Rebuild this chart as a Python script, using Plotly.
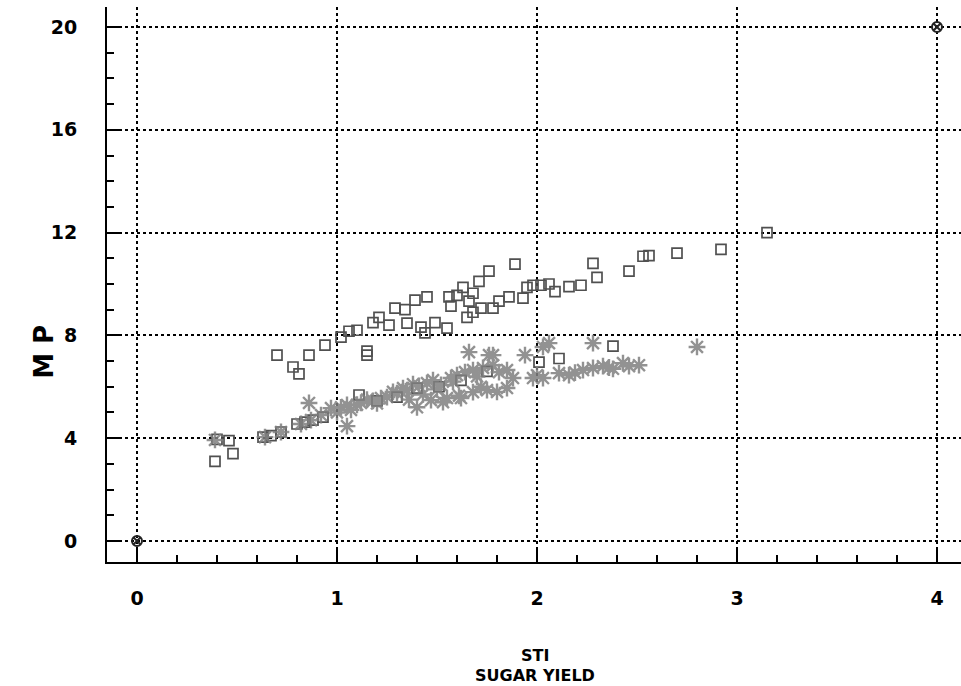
import plotly.graph_objects as go

# Open squares (upper cluster and some along lower trend)
sq_x = [0.39, 0.48, 0.46, 0.40, 0.63, 0.67, 0.72, 0.80, 0.84, 0.88, 0.93,
        0.70, 0.78, 0.81, 0.86, 0.94, 1.02, 1.06, 1.10, 1.15, 1.15, 1.18, 1.21,
        1.26, 1.29, 1.34, 1.35, 1.39, 1.42, 1.45, 1.49, 1.44, 1.55, 1.57, 1.60,
        1.63, 1.56, 1.66, 1.68, 1.71, 1.76, 1.72, 1.65, 1.68, 1.78, 1.81, 1.86,
        1.89, 1.93, 1.95, 1.98, 2.02, 2.06, 2.09, 2.16, 2.22, 2.28, 2.30, 2.46,
        2.53, 2.56, 2.70, 2.92, 3.15,
        2.01, 2.11, 2.38, 1.11, 1.30, 1.51, 1.20, 1.62, 1.40, 1.75]
sq_y = [3.10, 3.40, 3.90, 3.95, 4.04, 4.10, 4.24, 4.55, 4.62, 4.70, 4.82,
        7.23, 6.77, 6.50, 7.23, 7.62, 7.93, 8.16, 8.20, 7.39, 7.23, 8.50, 8.70,
        8.40, 9.06, 9.00, 8.48, 9.37, 8.32, 9.50, 8.50, 8.10, 8.28, 9.14, 9.56,
        9.87, 9.50, 9.33, 9.64, 10.10, 10.50, 9.06, 8.70, 8.90, 9.06, 9.33, 9.50,
        10.77, 9.45, 9.87, 9.95, 9.95, 10.00, 9.70, 9.90, 9.95, 10.80, 10.26, 10.50,
        11.08, 11.10, 11.20, 11.35, 12.00,
        6.96, 7.10, 7.58, 5.68, 5.60, 6.00, 5.45, 6.25, 5.95, 6.60]

# Asterisks (lower trend band)
ast_x = [0.39, 0.64, 0.72, 0.82, 0.87, 0.92, 0.97, 1.05, 1.12, 0.86, 1.05,
         1.07, 1.15, 1.22, 1.30, 1.35, 1.41, 1.45, 1.48, 1.52, 1.57, 1.60, 1.64,
         1.68, 1.73, 1.78, 1.81, 1.85,
         1.40, 1.47, 1.55, 1.62, 1.68, 1.75, 1.80, 1.85,
         1.88, 1.98, 2.03, 2.11, 2.23, 2.28, 2.33, 2.43, 2.51,
         1.76, 2.03, 2.06, 2.28, 2.80, 1.66, 1.78, 1.94,
         1.00, 1.10, 1.18, 1.25, 1.33, 1.38, 1.43, 1.50, 1.58, 1.70, 2.16, 2.38, 2.46,
         1.02, 1.20, 1.28, 1.36, 1.53, 1.61, 1.72, 2.00, 2.19, 2.36]
ast_y = [3.93, 4.04, 4.24, 4.55, 4.70, 4.90, 5.17, 5.29, 5.37, 5.37, 4.47,
         5.10, 5.50, 5.56, 5.75, 5.87, 6.03, 6.14, 6.26, 6.07, 6.34, 6.45, 6.57,
         6.65, 6.73, 6.84, 6.57, 6.65,
         5.20, 5.48, 5.56, 5.56, 5.79, 5.87, 5.80, 5.95,
         6.34, 6.34, 6.34, 6.53, 6.65, 6.73, 6.80, 6.92, 6.84,
         7.23, 7.55, 7.70, 7.70, 7.55, 7.35, 7.23, 7.23,
         5.00, 5.30, 5.45, 5.60, 5.95, 6.10, 5.70, 5.90, 6.20, 6.40, 6.45, 6.70, 6.80,
         5.20, 5.35, 5.80, 5.50, 5.40, 5.65, 6.00, 6.45, 6.55, 6.75]

# Calibration corner marks
corner_x = [0, 4]
corner_y = [0, 20]

x_ticks = [0, 1, 2, 3, 4]
y_ticks = [0, 4, 8, 12, 16, 20]

FONT = "DejaVu Sans, Liberation Sans, Arial, sans-serif"

fig = go.Figure()
fig.add_trace(go.Scatter(
    x=sq_x, y=sq_y, mode="markers",
    marker=dict(symbol="square-open", size=10, color="#505050",
                line=dict(width=1.7, color="#505050")),
    showlegend=False))
fig.add_trace(go.Scatter(
    x=ast_x, y=ast_y, mode="markers",
    marker=dict(symbol="asterisk-open", size=14, color="#808080",
                line=dict(width=2.4, color="#808080")),
    opacity=0.85, showlegend=False))
fig.add_trace(go.Scatter(
    x=corner_x, y=corner_y, mode="markers",
    marker=dict(symbol="circle-x-open", size=10, color="#222222",
                line=dict(width=2, color="#222222")),
    showlegend=False, cliponaxis=False))

tickfont = dict(family=FONT, size=19, color="black", weight="bold")

fig.update_xaxes(
    range=[-0.15, 4.12], tickvals=x_ticks, ticktext=[str(v) for v in x_ticks],
    showline=True, linecolor="black", linewidth=2, mirror=False,
    ticks="inside", ticklen=12, tickwidth=2, tickcolor="black",
    minor=dict(dtick=0.2, ticks="inside", ticklen=7, tickwidth=2, tickcolor="black",
               showgrid=False),
    showgrid=True, gridcolor="black", gridwidth=1.5, griddash="dot",
    zeroline=False, tickfont=tickfont, ticklabelstandoff=18)
fig.update_yaxes(
    range=[-0.82, 20.78], tickvals=y_ticks, ticktext=[str(v) for v in y_ticks],
    showline=True, linecolor="black", linewidth=2, mirror=False,
    ticks="inside", ticklen=12, tickwidth=2, tickcolor="black",
    minor=dict(dtick=1, ticks="inside", ticklen=7, tickwidth=2, tickcolor="black",
               showgrid=False),
    showgrid=True, gridcolor="black", gridwidth=1.5, griddash="dot",
    zeroline=False, tickfont=tickfont, ticklabelstandoff=24)

fig.update_layout(
    width=961, height=686,
    margin=dict(l=107, r=0, t=7, b=124),
    paper_bgcolor="white", plot_bgcolor="white",
    annotations=[
        dict(text="M P", textangle=-90, xref="paper", yref="paper",
             x=-0.073, y=0.378, xanchor="center", yanchor="middle",
             showarrow=False,
             font=dict(family=FONT, size=26, color="black", weight="bold")),
        dict(text="STI", xref="paper", yref="paper", x=0.501, y=-0.1676,
             xanchor="center", yanchor="middle", showarrow=False,
             font=dict(family=FONT, size=16, color="black", weight="bold")),
        dict(text="SUGAR YIELD", xref="paper", yref="paper", x=0.501, y=-0.2054,
             xanchor="center", yanchor="middle", showarrow=False,
             font=dict(family=FONT, size=16, color="black", weight="bold")),
    ])

fig.write_html("out.html")
